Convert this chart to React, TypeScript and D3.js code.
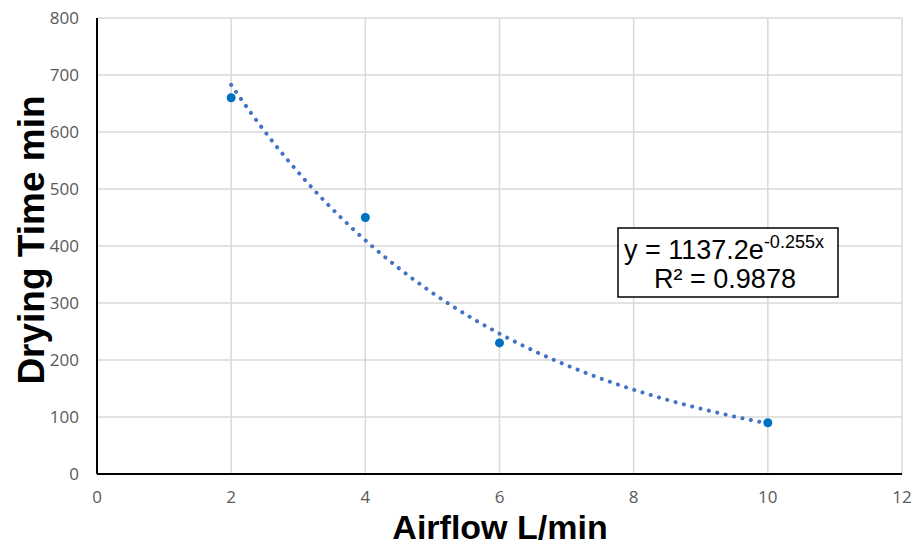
import React, { useEffect, useRef } from 'react';
import * as d3 from 'd3';

// data
const airflow = [2, 4, 6, 10];
const dryingTime = [660, 450, 230, 90];
const xTicks = [0, 2, 4, 6, 8, 10, 12];
const yTicks = [0, 100, 200, 300, 400, 500, 600, 700, 800];
// exponential trendline from the chart's label
const fitA = 1137.2;
const fitB = -0.255;
const fitR2 = '0.9878';

const App = () => {
  const svgRef = useRef<SVGSVGElement>(null);

  useEffect(() => {
    const width = 915;
    const height = 545;
    const margin = { top: 18, right: 13, bottom: 71, left: 97 };

    document.body.style.margin = '0';
    d3.select(svgRef.current).selectAll('*').remove();

    const svg = d3.select(svgRef.current)
      .attr('width', width)
      .attr('height', height)
      .style('display', 'block');

    const x = d3.scaleLinear().domain([0, 12]).range([margin.left, width - margin.right]);
    const y = d3.scaleLinear().domain([0, 800]).range([height - margin.bottom, margin.top]);

    // gridlines
    svg.append('g')
      .selectAll('line')
      .data(yTicks.slice(1))
      .enter().append('line')
      .attr('x1', x(0))
      .attr('x2', x(12))
      .attr('y1', d => y(d))
      .attr('y2', d => y(d))
      .attr('stroke', '#d9d9d9')
      .attr('stroke-width', 1.5);

    svg.append('g')
      .selectAll('line')
      .data(xTicks.slice(1))
      .enter().append('line')
      .attr('x1', d => x(d))
      .attr('x2', d => x(d))
      .attr('y1', y(0))
      .attr('y2', y(800))
      .attr('stroke', '#d9d9d9')
      .attr('stroke-width', 1.5);

    // axis lines
    svg.append('line')
      .attr('x1', x(0)).attr('x2', x(12))
      .attr('y1', y(0)).attr('y2', y(0))
      .attr('stroke', '#000').attr('stroke-width', 2);
    svg.append('line')
      .attr('x1', x(0)).attr('x2', x(0))
      .attr('y1', y(0)).attr('y2', y(800))
      .attr('stroke', '#000').attr('stroke-width', 2);

    // tick labels
    svg.append('g')
      .selectAll('text')
      .data(yTicks)
      .enter().append('text')
      .attr('x', x(0) - 18)
      .attr('y', d => y(d))
      .attr('dy', '0.35em')
      .attr('text-anchor', 'end')
      .attr('font-family', 'Open Sans, sans-serif')
      .attr('font-size', 17)
      .attr('fill', '#595959')
      .text(d => d);

    svg.append('g')
      .selectAll('text')
      .data(xTicks)
      .enter().append('text')
      .attr('x', d => x(d))
      .attr('y', y(0) + 29)
      .attr('text-anchor', 'middle')
      .attr('font-family', 'Open Sans, sans-serif')
      .attr('font-size', 17)
      .attr('fill', '#595959')
      .text(d => d);

    // axis titles
    svg.append('text')
      .attr('x', 500)
      .attr('y', 539)
      .attr('text-anchor', 'middle')
      .attr('font-family', 'Liberation Sans, Arial, sans-serif')
      .attr('font-weight', 'bold')
      .attr('font-size', 34)
      .attr('fill', '#000')
      .text('Airflow L/min');

    svg.append('text')
      .attr('transform', `translate(44, 240) rotate(-90)`)
      .attr('text-anchor', 'middle')
      .attr('font-family', 'Liberation Sans, Arial, sans-serif')
      .attr('font-weight', 'bold')
      .attr('font-size', 37)
      .attr('fill', '#000')
      .text('Drying Time min');

    // trendline
    const xs = d3.range(2, 10.0001, 0.05);
    const fitLine = d3.line<number>()
      .x(d => x(d))
      .y(d => y(fitA * Math.exp(fitB * d)));

    svg.append('path')
      .datum(xs)
      .attr('d', fitLine)
      .attr('fill', 'none')
      .attr('stroke', '#4472C4')
      .attr('stroke-width', 4)
      .attr('stroke-linecap', 'round')
      .attr('stroke-dasharray', '0.1 8.5');

    // points
    svg.append('g')
      .selectAll('circle')
      .data(airflow)
      .enter().append('circle')
      .attr('cx', d => x(d))
      .attr('cy', (d, i) => y(dryingTime[i]))
      .attr('r', 4.5)
      .attr('fill', '#0070C0');

    // equation label
    const box = svg.append('g');
    box.append('rect')
      .attr('x', 618)
      .attr('y', 228)
      .attr('width', 220)
      .attr('height', 69)
      .attr('fill', '#fff')
      .attr('stroke', '#000')
      .attr('stroke-width', 1.5);

    const eq = box.append('text')
      .attr('x', 624)
      .attr('y', 259)
      .attr('font-family', 'Liberation Sans, Arial, sans-serif')
      .attr('font-size', 27)
      .attr('fill', '#000');
    eq.append('tspan').text(`y = ${fitA}e`);
    eq.append('tspan')
      .attr('dy', -11)
      .attr('font-size', 18)
      .text(`${fitB}x`);

    box.append('text')
      .attr('x', 725)
      .attr('y', 288)
      .attr('text-anchor', 'middle')
      .attr('font-family', 'Liberation Sans, Arial, sans-serif')
      .attr('font-size', 27)
      .attr('fill', '#000')
      .text(`R² = ${fitR2}`);
  }, []);

  return <svg ref={svgRef}></svg>;
};

export default App;
